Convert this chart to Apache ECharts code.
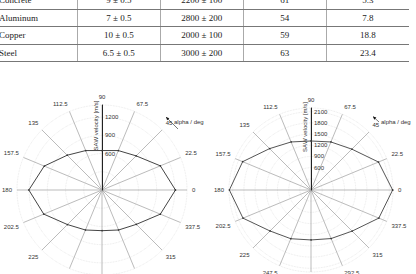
<!DOCTYPE html>
<html>
<head>
<meta charset="utf-8">
<script src="https://cdn.jsdelivr.net/npm/echarts@6/dist/echarts.min.js"></script>
<style>
  html, body { margin: 0; padding: 0; background: #fff; }
  #wrap { position: relative; width: 416px; height: 274px; overflow: hidden; }
  #chart { position: absolute; left: 0; top: 0; width: 416px; height: 274px; }
  table.props {
    position: absolute; left: -7px; top: -8px;
    border-collapse: collapse; table-layout: fixed;
    font-family: "Liberation Serif", "Times New Roman", serif;
    font-size: 9px; color: #222;
  }
  table.props td {
    height: 16.5px; padding: 0; text-align: center;
    border-bottom: 1px solid #777;
    border-left: 1px solid #aaa;
  }
  table.props td:first-child { text-align: left; padding-left: 6px; border-left: none; }
</style>
</head>
<body>
<div id="wrap">
  <div id="chart"></div>
  <table class="props" id="props"></table>
</div>
<script>
// table rows (only the lower part of the table is in the picture)
const materials = ['Concrete', 'Aluminum', 'Copper', 'Steel']
const thickness = ['9 ± 0.5', '7 ± 0.5', '10 ± 0.5', '6.5 ± 0.5']
const density = ['2200 ± 100', '2800 ± 200', '2000 ± 100', '3000 ± 200']
const colC = ['61', '54', '59', '63']
const colD = ['5.3', '7.8', '18.8', '23.4']
const colWidths = [85, 85, 84, 85, 84]

// polar data: angle in degrees, SAW velocity in m/s
const alphaDeg = [0, 22.5, 45, 67.5, 90, 112.5, 135, 157.5, 180, 202.5, 225, 247.5, 270, 292.5, 315, 337.5]
const velLeft = [1210, 1040, 795, 703, 650, 703, 810, 1030, 1205, 1038, 805, 713, 670, 713, 800, 1040]
const velRight = [2190, 1960, 1550, 1395, 1315, 1395, 1570, 1985, 2190, 1975, 1555, 1415, 1340, 1410, 1560, 1970]
const leftTicks = [600, 900, 1200]
const rightTicks = [600, 900, 1200, 1500, 1800, 2100]

// build the table
const tbl = document.getElementById('props')
let html = '<colgroup>' + colWidths.map(w => `<col style="width:${w}px">`).join('') + '</colgroup>'
materials.forEach((m, i) => {
  html += `<tr><td>${m}</td><td>${thickness[i]}</td><td>${density[i]}</td><td>${colC[i]}</td><td>${colD[i]}</td></tr>`
})
tbl.innerHTML = html

const labelFont = { fontSize: 6, color: '#333', fontFamily: 'Liberation Sans, Arial, sans-serif' }

function ring(vals) {
  // angle axis runs 90..450 so the radius axis sits at the top
  const pts = alphaDeg.map((a, i) => [vals[i], a < 90 ? a + 360 : a])
  pts.push(pts[0])
  return pts
}

function angleAxis(idx, margin) {
  return {
    polarIndex: idx,
    type: 'value',
    min: 90,
    max: 450,
    interval: 22.5,
    startAngle: 90,
    clockwise: false,
    axisLine: { show: false },
    axisTick: { show: false },
    axisLabel: Object.assign({
      margin: margin,
      formatter: v => (v >= 450 ? '' : String(v % 360))
    }, labelFont),
    splitLine: { show: true, lineStyle: { color: '#aaa', width: 0.8 } }
  }
}

function radiusAxis(idx, max, ticks, namePad) {
  return {
    polarIndex: idx,
    type: 'value',
    min: 0,
    max: max,
    interval: 300,
    name: 'SAW velocity [m/s]',
    nameLocation: 'middle',
    nameRotate: 90,
    nameGap: -9,
    nameTextStyle: Object.assign({ padding: [0, 0, 0, namePad] }, labelFont),
    axisLine: { show: true, lineStyle: { color: '#222', width: 1 } },
    axisTick: { show: false },
    axisLabel: Object.assign({
      margin: -3,
      align: 'left',
      formatter: v => (ticks.indexOf(v) >= 0 ? String(v) : '')
    }, labelFont),
    splitLine: { show: true, lineStyle: { color: '#e2e2e2', type: 'dotted', width: 0.8 } }
  }
}

function arrow(x1, y1, x2, y2) {
  const ang = Math.atan2(y2 - y1, x2 - x1)
  const s = 3.5
  const p1 = [x2 - s * Math.cos(ang - 0.45), y2 - s * Math.sin(ang - 0.45)]
  const p2 = [x2 - s * Math.cos(ang + 0.45), y2 - s * Math.sin(ang + 0.45)]
  return [
    { type: 'line', shape: { x1, y1, x2, y2 }, style: { stroke: '#555', lineWidth: 0.8 } },
    { type: 'polygon', shape: { points: [[x2, y2], p1, p2] }, style: { fill: '#111' } }
  ]
}

const chart = echarts.init(document.getElementById('chart'), null, { renderer: 'svg' })
const option = {
  animation: false,
  polar: [
    { center: [102, 190], radius: 85 },
    { center: [311, 190], radius: 82 }
  ],
  angleAxis: [angleAxis(0, 5), angleAxis(1, 5)],
  radiusAxis: [radiusAxis(0, 1400, leftTicks, 44), radiusAxis(1, 2200, rightTicks, 44)],
  series: [
    {
      type: 'line', coordinateSystem: 'polar', polarIndex: 0,
      data: ring(velLeft),
      symbol: 'circle', symbolSize: 1.5,
      itemStyle: { color: '#333' },
      lineStyle: { color: '#444', width: 1 }
    },
    {
      type: 'line', coordinateSystem: 'polar', polarIndex: 1,
      data: ring(velRight),
      symbol: 'circle', symbolSize: 1.5,
      itemStyle: { color: '#333' },
      lineStyle: { color: '#555', width: 1 }
    }
  ],
  graphic: [
    { type: 'text', left: 174, top: 119, style: Object.assign({ text: 'alpha / deg', fill: '#333' }, { font: '6px "Liberation Sans", Arial, sans-serif' }) },
    { type: 'text', left: 381, top: 119, style: Object.assign({ text: 'alpha / deg', fill: '#333' }, { font: '6px "Liberation Sans", Arial, sans-serif' }) }
  ].concat(arrow(178, 129, 166, 117), arrow(379, 122, 373, 116.5))
}
chart.setOption(option)
</script>
</body>
</html>
